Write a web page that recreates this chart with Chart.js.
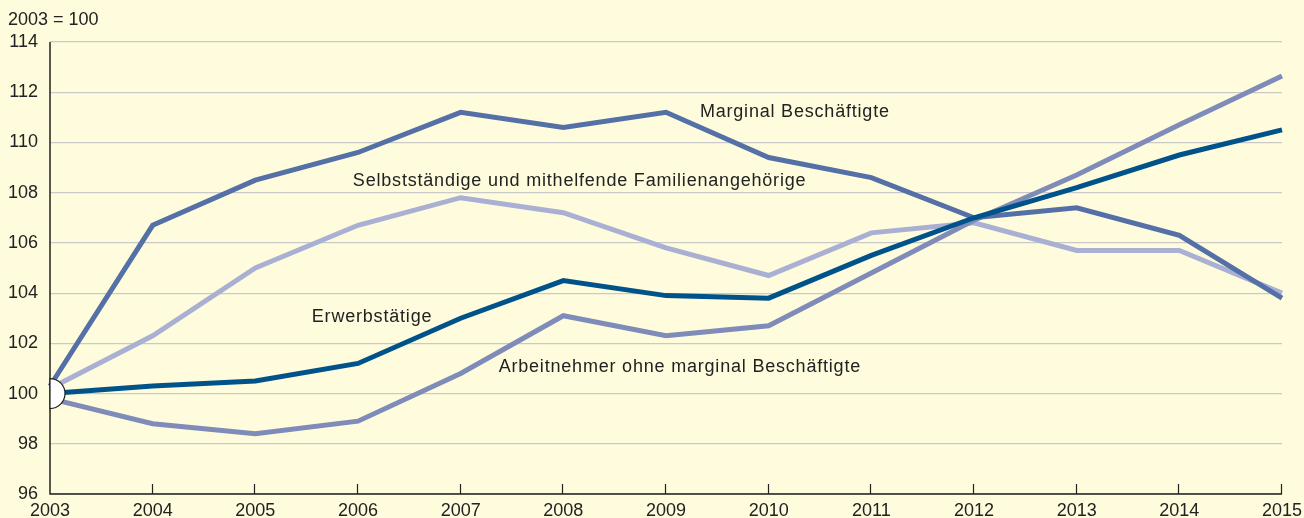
<!DOCTYPE html>
<html>
<head>
<meta charset="utf-8">
<script src="https://cdn.jsdelivr.net/npm/chart.js@4/dist/chart.umd.min.js"></script>
<style>
  html, body { margin: 0; padding: 0; background: #fefcdc; }
  #wrap { width: 1304px; height: 518px; position: relative; }
</style>
</head>
<body>
<div id="wrap"><canvas id="chart" width="1304" height="518"></canvas></div>
<script>
// data (2003 = 100)
const years = ["2003", "2004", "2005", "2006", "2007", "2008", "2009", "2010", "2011", "2012", "2013", "2014", "2015"];
const marginal = [100.3, 106.7, 108.5, 109.6, 111.2, 110.6, 111.2, 109.4, 108.6, 107.0, 107.4, 106.3, 103.8];
const selbststaendige = [100.2, 102.3, 105.0, 106.7, 107.8, 107.2, 105.8, 104.7, 106.4, 106.8, 105.7, 105.7, 104.0];
const erwerbstaetige = [100.0, 100.3, 100.5, 101.2, 103.0, 104.5, 103.9, 103.8, 105.5, 107.0, 108.2, 109.5, 110.5];
const arbeitnehmer = [99.8, 98.8, 98.4, 98.9, 100.8, 103.1, 102.3, 102.7, 104.8, 106.9, 108.7, 110.7, 112.65];
const yTicks = [96, 98, 100, 102, 104, 106, 108, 110, 112, 114];

const FONT = "'Liberation Sans', Arial, sans-serif";
const TEXT = "#222222";

// line labels drawn in data coordinates
const lineLabels = [
  { text: "Marginal Beschäftigte", x: 6.33, y: 111.2 },
  { text: "Selbstständige und mithelfende Familienangehörige", x: 2.95, y: 108.45 },
  { text: "Erwerbstätige", x: 2.55, y: 103.05 },
  { text: "Arbeitnehmer ohne marginal Beschäftigte", x: 4.37, y: 101.05 },
];

const decorPlugin = {
  id: "decor",
  beforeDraw(chart) {
    const { ctx } = chart;
    ctx.save();
    ctx.fillStyle = "#fefcdc";
    ctx.fillRect(0, 0, chart.width, chart.height);
    ctx.fillStyle = TEXT;
    ctx.font = "18px " + FONT;
    ctx.textBaseline = "middle";
    ctx.fillText("2003 = 100", 8, 20);
    ctx.restore();
  },
  afterDatasetsDraw(chart) {
    const { ctx, scales: { x, y } } = chart;
    ctx.save();
    // axis lines
    ctx.strokeStyle = "#222";
    ctx.lineWidth = 1.5;
    ctx.beginPath();
    ctx.moveTo(x.left, y.top);
    ctx.lineTo(x.left, y.bottom);
    ctx.lineTo(x.right, y.bottom);
    ctx.stroke();
    // inner ticks
    ctx.lineWidth = 1.2;
    years.forEach((yr, i) => {
      if (i === 0) return;
      const px = Math.round(x.getPixelForValue(i)) - 0.5;
      ctx.beginPath();
      ctx.moveTo(px, y.bottom);
      ctx.lineTo(px, y.bottom - 10);
      ctx.stroke();
    });
    // base half circle
    const cx = x.getPixelForValue(0), cy = y.getPixelForValue(100);
    ctx.beginPath();
    ctx.arc(cx, cy, 15, -Math.PI / 2, Math.PI / 2);
    ctx.closePath();
    ctx.fillStyle = "#ffffff";
    ctx.fill();
    ctx.lineWidth = 1.2;
    ctx.strokeStyle = "#222";
    ctx.stroke();
    // line labels
    ctx.fillStyle = TEXT;
    ctx.font = "18px " + FONT;
    ctx.letterSpacing = "0.8px";
    ctx.textBaseline = "middle";
    ctx.textAlign = "left";
    lineLabels.forEach((l) => {
      ctx.fillText(l.text, x.getPixelForValue(l.x), y.getPixelForValue(l.y));
    });
    ctx.restore();
  },
};

const mkSet = (label, data, color, order) => ({
  label,
  data,
  borderColor: color,
  backgroundColor: color,
  borderWidth: 5,
  pointRadius: 0,
  tension: 0,
  order,
});

new Chart(document.getElementById("chart"), {
  type: "line",
  data: {
    labels: years,
    datasets: [
      mkSet("Erwerbstätige", erwerbstaetige, "#00538a", 1),
      mkSet("Marginal Beschäftigte", marginal, "#5470a6", 2),
      mkSet("Arbeitnehmer ohne marginal Beschäftigte", arbeitnehmer, "#7f8bb8", 3),
      mkSet("Selbstständige und mithelfende Familienangehörige", selbststaendige, "#a9b0d3", 4),
    ],
  },
  options: {
    responsive: false,
    animation: false,
    layout: { padding: { top: 42, right: 22, left: 0, bottom: 0 } },
    plugins: { legend: { display: false }, tooltip: { enabled: false } },
    scales: {
      x: {
        type: "category",
        offset: false,
        grid: { display: false, drawTicks: false },
        border: { display: false },
        afterFit: (s) => {
          s.height = 24;
          s.paddingLeft = 0;
          s.paddingRight = 0;
        },
        ticks: {
          color: TEXT,
          font: { family: FONT, size: 18 },
          padding: 6,
          maxRotation: 0,
          autoSkip: false,
        },
      },
      y: {
        min: 96,
        max: 114,
        afterFit: (s) => { s.width = 50; },
        afterBuildTicks: (s) => { s.ticks = yTicks.map((v) => ({ value: v })); },
        grid: { color: "#c9c9c9", lineWidth: 1.2, drawTicks: false },
        border: { display: false },
        ticks: {
          color: TEXT,
          font: { family: FONT, size: 18 },
          padding: 12,
        },
      },
    },
  },
  plugins: [decorPlugin],
});
</script>
</body>
</html>
